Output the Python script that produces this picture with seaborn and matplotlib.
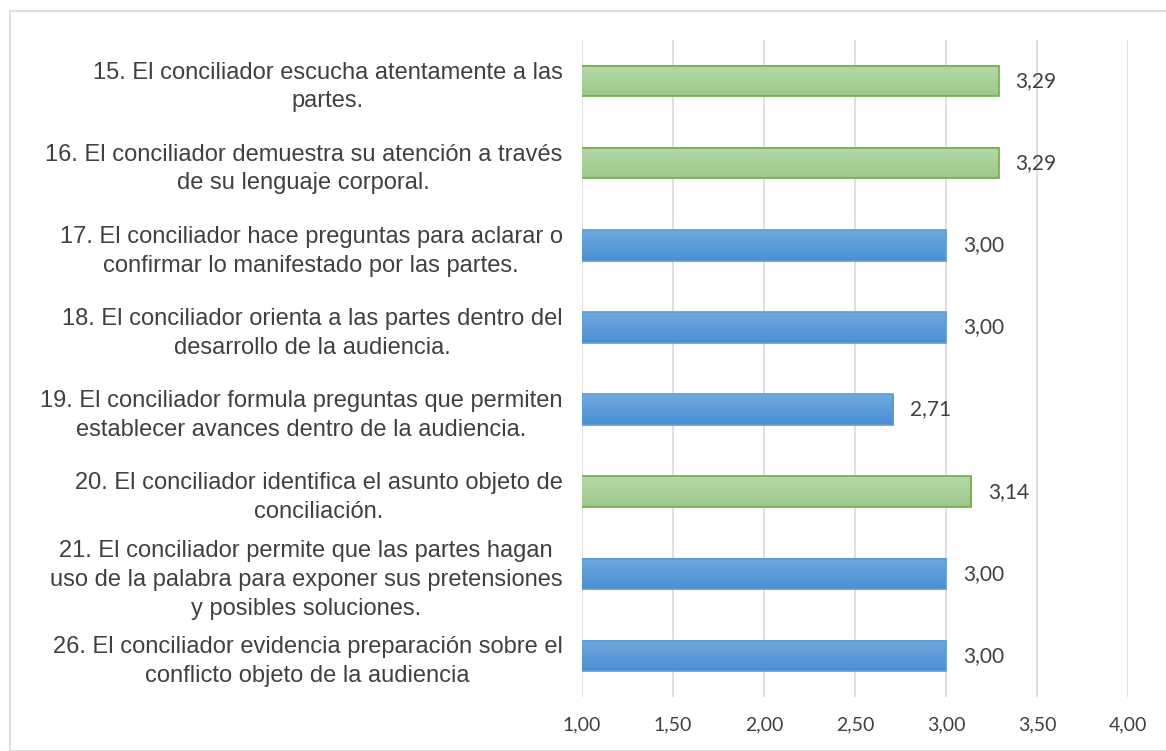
import matplotlib
matplotlib.use("Agg")
import matplotlib.pyplot as plt
import seaborn as sns
import pandas as pd
import numpy as np
from matplotlib.patches import Rectangle
from matplotlib.colors import LinearSegmentedColormap, to_hex

labels = [
    "15. El conciliador escucha atentamente a las\npartes.",
    "16. El conciliador demuestra su atención a través\nde su lenguaje corporal.",
    "17. El conciliador hace preguntas para aclarar o\nconfirmar lo manifestado por las partes.",
    "18. El conciliador orienta a las partes dentro del\ndesarrollo de la audiencia.",
    "19. El conciliador formula preguntas que permiten\nestablecer avances dentro de la audiencia.",
    "20. El conciliador identifica el asunto objeto de\nconciliación.",
    "21. El conciliador permite que las partes hagan\nuso de la palabra para exponer sus pretensiones\ny posibles soluciones.",
    "26. El conciliador evidencia preparación sobre el\nconflicto objeto de la audiencia",
]
values = [3.29, 3.29, 3.00, 3.00, 2.71, 3.14, 3.00, 3.00]
groups = ["alto", "alto", "medio", "medio", "medio", "alto", "medio", "medio"]
xticks = [1.0, 1.5, 2.0, 2.5, 3.0, 3.5, 4.0]

fill = {"alto": "#a9d18e", "medio": "#5596d8"}
edge = {"alto": "#70ad47", "medio": "#5b9bd5"}
grad = {"alto": ("#b7d8a9", "#9dc88a"), "medio": ("#70a9de", "#4a8fd4")}

df = pd.DataFrame({"label": labels, "value": values, "group": groups})

sns.set_theme(style="white")
plt.rcParams["font.family"] = ["Liberation Sans", "DejaVu Sans"]

fig = plt.figure(figsize=(11.66, 7.51), dpi=100)
ax = fig.add_axes([582/1166, 1-697/751, (1128-582)/1166, (697-40)/751])

sns.barplot(data=df, x="value", y="label", hue="group", palette=fill,
            orient="h", width=0.37, legend=False, ax=ax, dodge=False,
            saturation=1)

XMIN, XMAX = 1.0, 4.0
ax.set_xlim(XMIN, XMAX)
ax.set_ylim(len(labels) - 0.5, -0.5)

for patch in list(ax.patches):
    fc = to_hex(patch.get_facecolor()[:3])
    g = "alto" if fc == fill["alto"] else "medio"
    patch.set_edgecolor(edge[g])
    patch.set_linewidth(1.2)
    x0, y0 = patch.get_x(), patch.get_y()
    w, h = patch.get_width(), patch.get_height()
    cmap = LinearSegmentedColormap.from_list("g", [grad[g][0], grad[g][1]])
    ax.imshow(np.linspace(0, 1, 64).reshape(-1, 1), cmap=cmap,
              aspect="auto", extent=(max(x0, XMIN), x0 + w, y0 + h, y0),
              origin="upper", zorder=patch.get_zorder() + 0.1)
    patch.set_facecolor("none")
    patch.set_zorder(patch.get_zorder() + 0.2)

ax.set_xlim(XMIN, XMAX)
ax.set_ylim(len(labels) - 0.5, -0.5)
ax.set_aspect("auto")

ax.set_xticks(xticks)
ax.set_xticklabels([f"{t:.2f}".replace(".", ",") for t in xticks],
                   fontsize=14, color="#404040", family=["Lato", "DejaVu Sans"])
ax.tick_params(axis="x", length=0, pad=14)
ax.tick_params(axis="y", length=0, pad=14)
for t in ax.get_yticklabels():
    t.set_fontsize(17)
    t.set_color("#404040")
    t.set_multialignment("center")
    t.set_linespacing(1.4)
    t.set_y(t.get_position()[1])
ax.set_xlabel("")
ax.set_ylabel("")
ax.grid(axis="x", color="#d9d9d9", linewidth=1.2)
ax.set_axisbelow(True)
for s in ax.spines.values():
    s.set_visible(False)

for i, v in enumerate(values):
    ax.text(v + 0.092, i, f"{v:.2f}".replace(".", ","), va="center", ha="left",
            fontsize=15, color="#404040", family=["Lato", "DejaVu Sans"])

fig.patches.append(Rectangle((10/1166, 0), 1 - 10/1166 + 0.01, 1 - 11/751,
                             transform=fig.transFigure, fill=False,
                             edgecolor="#d9d9d9", linewidth=1.2))

fig.savefig("out.png", dpi=100)
